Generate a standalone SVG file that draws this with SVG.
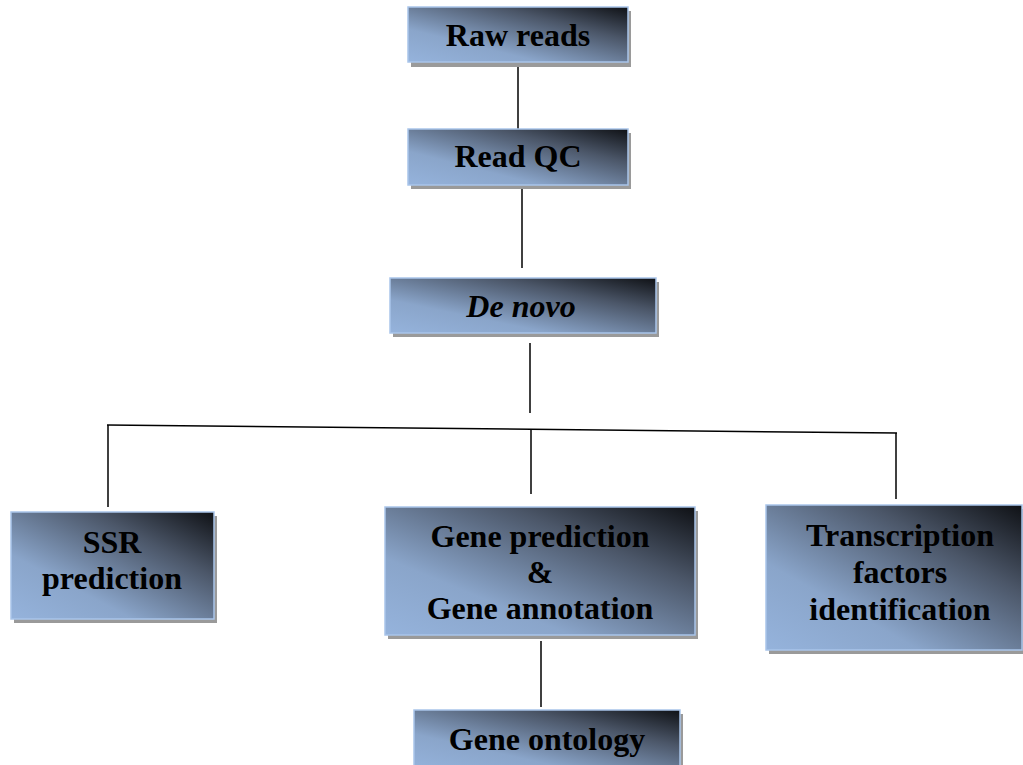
<svg xmlns="http://www.w3.org/2000/svg" width="1023" height="765" viewBox="0 0 1023 765">
<defs>
<linearGradient id="g" x1="0" y1="1" x2="1" y2="0">
<stop offset="0" stop-color="#95b3dc"/>
<stop offset="0.3" stop-color="#8aa5ca"/>
<stop offset="0.7" stop-color="#4b5668"/>
<stop offset="1" stop-color="#0f1115"/>
</linearGradient>
</defs>
<style>
.sh{fill:#9a9a9a}
.bx{fill:url(#g);stroke:#a9c5ea;stroke-width:1.5}
.t{font-family:"Liberation Serif","Times New Roman",serif;font-weight:bold;font-size:32px;fill:#000;text-anchor:middle}
.c{stroke:#000;stroke-width:1.5;fill:none}
</style>
<rect width="1023" height="765" fill="#fff"/>
<g id="connectors">
<line class="c" x1="518" y1="63" x2="518" y2="129"/>
<line class="c" x1="522" y1="188" x2="522" y2="268"/>
<line class="c" x1="530" y1="343" x2="530" y2="413"/>
<line class="c" x1="107" y1="425" x2="897" y2="433"/>
<line class="c" x1="108" y1="425" x2="108" y2="507"/>
<line class="c" x1="531" y1="429" x2="531" y2="494"/>
<line class="c" x1="896" y1="433" x2="896" y2="499"/>
<line class="c" x1="541" y1="641" x2="541" y2="707"/>
</g>
<g id="raw-reads">
<rect class="sh" x="411" y="11" width="220" height="56"/>
<rect class="bx" x="408" y="7" width="220" height="55"/>
<text class="t" x="518" y="46">Raw reads</text>
</g>
<g id="read-qc">
<rect class="sh" x="411" y="133" width="220" height="56"/>
<rect class="bx" x="408" y="129" width="220" height="56"/>
<text class="t" x="518" y="167">Read QC</text>
</g>
<g id="de-novo">
<rect class="sh" x="393" y="282" width="266" height="55"/>
<rect class="bx" x="390" y="278" width="266" height="55"/>
<text class="t" x="521" y="317" font-style="italic">De novo</text>
</g>
<g id="ssr">
<rect class="sh" x="14" y="516" width="203" height="107"/>
<rect class="bx" x="11" y="512" width="203" height="107"/>
<text class="t" x="112" y="553">SSR</text>
<text class="t" x="112" y="589">prediction</text>
</g>
<g id="gene-prediction">
<rect class="sh" x="388" y="511" width="310" height="128"/>
<rect class="bx" x="385" y="507" width="310" height="128"/>
<text class="t" x="540" y="547">Gene prediction</text>
<text class="t" x="540" y="583">&amp;</text>
<text class="t" x="540" y="619">Gene annotation</text>
</g>
<g id="transcription">
<rect class="sh" x="769" y="509" width="256" height="145"/>
<rect class="bx" x="766" y="505" width="256" height="145"/>
<text class="t" x="900" y="546">Transcription</text>
<text class="t" x="900" y="583">factors</text>
<text class="t" x="900" y="620">identification</text>
</g>
<g id="gene-ontology">
<rect class="sh" x="417" y="714" width="266" height="60"/>
<rect class="bx" x="414" y="710" width="266" height="60"/>
<text class="t" x="547" y="750">Gene ontology</text>
</g>
</svg>
